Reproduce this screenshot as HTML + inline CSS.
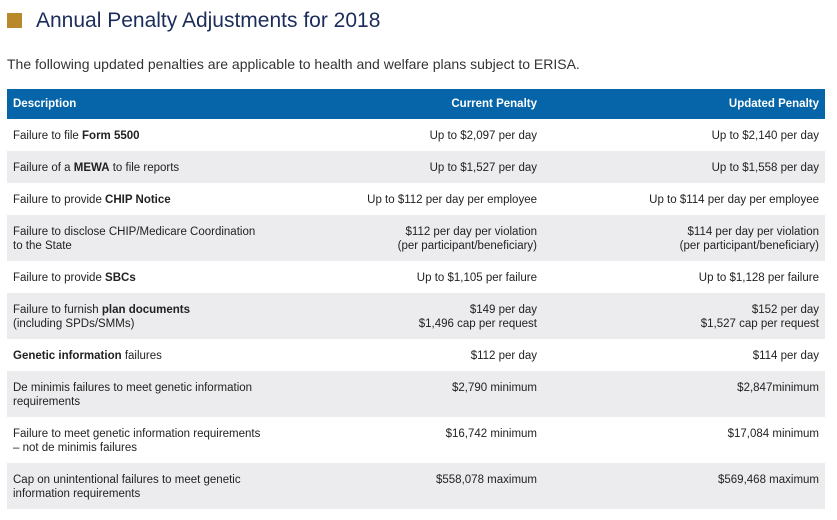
<!DOCTYPE html>
<html><head><meta charset="utf-8"><style>
body{margin:0;width:837px;height:520px;background:#fff;font-family:"Liberation Sans",sans-serif;position:relative;overflow:hidden;color:#222}
.sq{position:absolute;left:7px;top:13px;width:15px;height:15px;background:#b8892a}
h1{position:absolute;left:36px;top:7px;margin:0;font-weight:normal;font-size:21px;color:#1b2d5a;line-height:28px}
.sub{position:absolute;left:7px;top:55px;font-size:14px;color:#333;line-height:18px}
.row{position:absolute;left:7px;width:818px;font-size:11.5px;line-height:14px}
.row div{position:absolute;top:10px}
.d{left:6px}.c{right:288px;text-align:right}.u{right:6px;text-align:right}
.g{background:#ececee}
.hd{background:#0565a8;color:#fff;font-weight:bold;top:89px;height:30px}
.hd div{top:8px}
</style></head><body>
<div class="sq"></div>
<h1>Annual Penalty Adjustments for 2018</h1>
<div class="sub">The following updated penalties are applicable to health and welfare plans subject to ERISA.</div>
<div class="row hd"><div class="d">Description</div><div class="c">Current Penalty</div><div class="u">Updated Penalty</div></div>
<div class="row" style="top:119px;height:32px"><div class="d">Failure to file <b>Form 5500</b></div><div class="c">Up to $2,097 per day</div><div class="u">Up to $2,140 per day</div></div>
<div class="row g" style="top:151px;height:32px"><div class="d">Failure of a <b>MEWA</b> to file reports</div><div class="c">Up to $1,527 per day</div><div class="u">Up to $1,558 per day</div></div>
<div class="row" style="top:183px;height:32px"><div class="d">Failure to provide <b>CHIP Notice</b></div><div class="c">Up to $112 per day per employee</div><div class="u">Up to $114 per day per employee</div></div>
<div class="row g" style="top:215px;height:46px"><div class="d">Failure to disclose CHIP/Medicare Coordination<br>to the State</div><div class="c">$112 per day per violation<br>(per participant/beneficiary)</div><div class="u">$114 per day per violation<br>(per participant/beneficiary)</div></div>
<div class="row" style="top:261px;height:32px"><div class="d">Failure to provide <b>SBCs</b></div><div class="c">Up to $1,105 per failure</div><div class="u">Up to $1,128 per failure</div></div>
<div class="row g" style="top:293px;height:46px"><div class="d">Failure to furnish <b>plan documents</b><br>(including SPDs/SMMs)</div><div class="c">$149 per day<br>$1,496 cap per request</div><div class="u">$152 per day<br>$1,527 cap per request</div></div>
<div class="row" style="top:339px;height:32px"><div class="d"><b>Genetic information</b> failures</div><div class="c">$112 per day</div><div class="u">$114 per day</div></div>
<div class="row g" style="top:371px;height:46px"><div class="d">De minimis failures to meet genetic information<br>requirements</div><div class="c">$2,790 minimum</div><div class="u">$2,847minimum</div></div>
<div class="row" style="top:417px;height:46px"><div class="d">Failure to meet genetic information requirements<br>– not de minimis failures</div><div class="c">$16,742 minimum</div><div class="u">$17,084 minimum</div></div>
<div class="row g" style="top:463px;height:46px"><div class="d">Cap on unintentional failures to meet genetic<br>information requirements</div><div class="c">$558,078 maximum</div><div class="u">$569,468 maximum</div></div>
</body></html>
